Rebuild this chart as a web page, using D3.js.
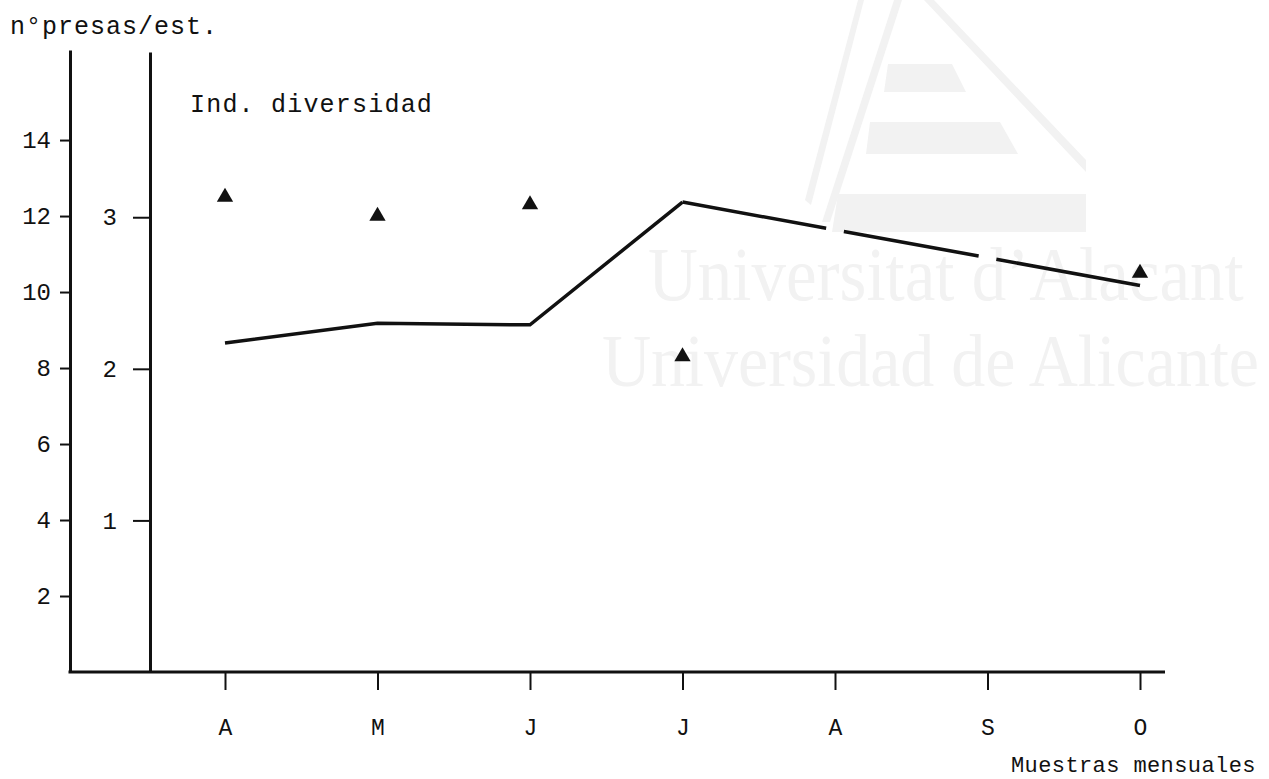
<!DOCTYPE html>
<html>
<head>
<meta charset="utf-8">
<script src="https://cdn.jsdelivr.net/npm/d3@7"></script>
<style>
  html, body { margin: 0; padding: 0; background: #ffffff; }
  svg { display: block; }
</style>
</head>
<body>
<svg id="chart" width="1269" height="779"></svg>
<script>
// Monthly samples (April to October)
const months = ["A", "M", "J", "J", "A", "S", "O"];
// Prey per stomach (left axis), triangles; null = no sample
const preyPerStomach = [12.5, 12.0, 12.3, 8.3, null, null, 10.5];
// Diversity index (inner axis), line; null = no sample
const diversityIndex = [2.17, 2.30, 2.29, 3.10, null, null, 2.55];
// Axis ticks
const preyTicks = [2, 4, 6, 8, 10, 12, 14];
const diversityTicks = [1, 2, 3];

const svg = d3.select("#chart");
const ink = "#111";
const mono = "'Liberation Mono', 'DejaVu Sans Mono', monospace";

// Faint institutional watermark behind the chart
const wm = svg.append("g").attr("fill", "#f2f2f2");
wm.append("path").attr("d", "M805,200 L858,0 L864,0 L811,205 Z");
wm.append("path").attr("d", "M822,222 L894,0 L902,0 L830,222 Z");
wm.append("path").attr("d", "M924,0 L934,0 L1086,160 L1086,172 Z");
wm.append("path").attr("d", "M888,64 L952,64 L966,92 L884,92 Z");
wm.append("path").attr("d", "M870,122 L1000,122 L1018,154 L866,154 Z");
wm.append("path").attr("d", "M838,194 L1086,194 L1086,232 L832,232 Z");
wm.append("text").attr("transform", "translate(648,300) scale(1,1.1)")
  .attr("font-family", "'Liberation Serif', serif").attr("font-size", 69)
  .text("Universitat d\u2019Alacant");
wm.append("text").attr("transform", "translate(602,386) scale(1,1.1)")
  .attr("font-family", "'Liberation Serif', serif").attr("font-size", 68)
  .text("Universidad de Alicante");

// Scales
const x = d3.scaleLinear().domain([0, months.length - 1]).range([225, 1140]);
const yPrey = d3.scaleLinear().domain([0, 16.37]).range([672, 50]);
const yDiv = d3.scaleLinear().domain([0, 4.09]).range([672, 52]);

const outerAxisX = 70, innerAxisX = 150, baseY = yPrey(0);

// Left axis: prey per stomach
const gPrey = svg.append("g").attr("transform", `translate(${outerAxisX},0)`)
  .call(d3.axisLeft(yPrey).tickValues(preyTicks).tickFormat(d3.format("d"))
    .tickSize(10).tickSizeOuter(0).tickPadding(9));
// Inner axis: diversity index
const gDiv = svg.append("g").attr("transform", `translate(${innerAxisX},0)`)
  .call(d3.axisLeft(yDiv).tickValues(diversityTicks).tickFormat(d3.format("d"))
    .tickSize(17).tickSizeOuter(0).tickPadding(16));

[gPrey, gDiv].forEach(g => {
  g.select(".domain").attr("stroke", ink).attr("stroke-width", 3);
  g.selectAll(".tick line").attr("stroke", ink).attr("stroke-width", 2);
  g.selectAll(".tick text").attr("fill", ink)
    .attr("font-family", mono).attr("font-size", 24);
});

// Bottom axis: monthly samples
const gX = svg.append("g").attr("transform", `translate(0,${baseY})`)
  .call(d3.axisBottom(x).tickValues(d3.range(months.length))
    .tickFormat(i => months[i]).tickSize(18).tickSizeOuter(0).tickPadding(29));
gX.select(".domain").remove();
gX.selectAll(".tick line").attr("stroke", ink).attr("stroke-width", 2);
gX.selectAll(".tick text").attr("fill", ink)
  .attr("font-family", mono).attr("font-size", 23);
svg.append("line")
  .attr("x1", outerAxisX - 1.5).attr("x2", x(months.length - 1) + 25)
  .attr("y1", baseY).attr("y2", baseY)
  .attr("stroke", ink).attr("stroke-width", 3);

// Axis titles
svg.append("text").attr("x", 10).attr("y", 34)
  .attr("font-family", mono).attr("font-size", 25).attr("letter-spacing", 1.0)
  .attr("fill", ink).text("n\u00b0presas/est.");
svg.append("text").attr("x", 190).attr("y", 112)
  .attr("font-family", mono).attr("font-size", 25).attr("letter-spacing", 1.2)
  .attr("fill", ink).text("Ind. diversidad");
svg.append("text").attr("x", 1011).attr("y", 772)
  .attr("font-family", mono).attr("font-size", 22).attr("letter-spacing", 0.4)
  .attr("fill", ink).text("Muestras mensuales");

// Diversity line: solid over consecutive samples
const divPts = diversityIndex.map((v, i) => ({ i, v }));
const line = d3.line().defined(d => d.v !== null).x(d => x(d.i)).y(d => yDiv(d.v));
svg.append("path").datum(divPts.slice(0, 4))
  .attr("d", line).attr("fill", "none")
  .attr("stroke", ink).attr("stroke-width", 3.5).attr("stroke-linejoin", "miter");

// Bridge across the unsampled months, broken where they fall
const known = divPts.filter(d => d.v !== null);
const a = known[known.length - 2], b = known[known.length - 1];
const x0 = x(a.i), y0 = yDiv(a.v), x1 = x(b.i), y1 = yDiv(b.v);
const L = Math.hypot(x1 - x0, y1 - y0);
const gap = 18;
const cuts = d3.range(a.i + 1, b.i).map(i => (x(i) - x0) / (x1 - x0) * L);
const dash = [];
let pos = 0;
cuts.forEach(c => { dash.push(c - gap / 2 - pos, gap); pos = c + gap / 2; });
dash.push(L - pos + 1, 0);
svg.append("path").datum([a, b])
  .attr("d", d3.line().x(d => x(d.i)).y(d => yDiv(d.v)))
  .attr("fill", "none").attr("stroke", ink).attr("stroke-width", 3.5)
  .attr("stroke-dasharray", dash.join(","));

// Prey per stomach markers
svg.append("g").selectAll("path")
  .data(preyPerStomach.map((v, i) => ({ i, v })).filter(d => d.v !== null))
  .join("path")
  .attr("transform", d => `translate(${x(d.i)},${yPrey(d.v)})`)
  .attr("d", d3.symbol(d3.symbolTriangle, 115))
  .attr("fill", ink);
</script>
</body>
</html>
